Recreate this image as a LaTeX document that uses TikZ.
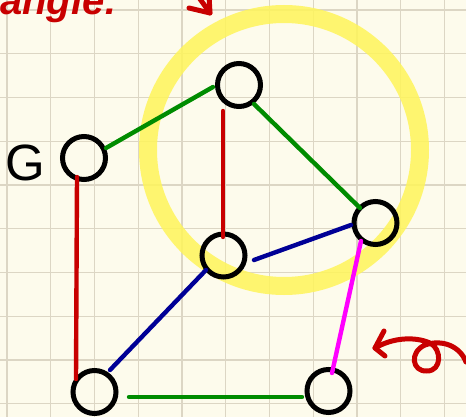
\documentclass[tikz,border=0pt]{standalone}
\usepackage{fontspec}
\setmainfont{Liberation Sans}
\usetikzlibrary{calc}
\definecolor{paper}{RGB}{253,251,236}
\definecolor{gridc}{RGB}{220,214,196}
\definecolor{hl}{RGB}{255,245,90}
\definecolor{inkred}{RGB}{200,0,0}
\definecolor{egreen}{RGB}{0,140,0}
\definecolor{eblue}{RGB}{0,0,150}
\definecolor{emag}{RGB}{255,0,255}
\definecolor{ered}{RGB}{200,0,0}
\begin{document}
\begin{tikzpicture}[x=1pt,y=-1pt,
  vert/.style={circle,draw=black,line width=5pt,minimum size=43pt,inner sep=0pt},
  edge/.style={line width=4.4pt,line cap=round},
  ink/.style={inkred,line width=5pt,line cap=round,line join=round},
  gridline/.style={gridc,line width=1.4pt}]
\fill[paper] (0,0) rectangle (466,417);
\useasboundingbox (0,0) rectangle (466,417);
\clip (0,0) rectangle (466,417);
\foreach \i in {0,...,10} { \draw[gridline] ({7+43.75*\i},0) -- ({7+43.75*\i},417); }
\foreach \i in {0,...,9} { \draw[gridline] (0,{10+43.75*\i}) -- (466,{10+43.75*\i}); }
% highlighter circle
\draw[hl, opacity=0.85, line width=18pt] (284,150) circle[radius=136];
% vertices
\node[vert] (G) at (84,158) {};
\node[vert] (top) at (239,85) {};
\node[vert] (right) at (375.5,223) {};
\node[vert] (mid) at (223.5,255.5) {};
\node[vert] (bl) at (94.5,392) {};
\node[vert] (br) at (328.5,391) {};
% label
\node[anchor=base, font=\fontsize{51}{51}\selectfont, inner sep=0pt] (glabel) at (25,181) {G};
% edges
\draw[edge, egreen] ($(G)+(22,-10)$) -- ($(top)+(-26,2)$);
\draw[edge, egreen] ($(top)+(15,19)$) -- ($(right)+(-15.5,-15)$);
\draw[edge, ered] ($(top)+(-16,26)$) -- ($(mid)+(-0.5,-18.5)$);
\draw[edge, eblue] ($(mid)+(30.5,4.5)$) -- ($(right)+(-24.5,2)$);
\draw[edge, eblue] ($(mid)+(-17.5,14.5)$) -- ($(bl)+(15.5,-22)$);
\draw[edge, ered] ($(G)+(-7,19)$) -- ($(bl)+(-18.5,-13)$);
\draw[edge, egreen] ($(bl)+(34.5,5)$) -- ($(br)+(-26.5,6)$);
\draw[edge, emag] ($(right)+(-14.5,18)$) -- ($(br)+(3.5,-18)$);
% handwriting
\node[anchor=base east, inkred, font=\fontsize{40}{40}\selectfont\bfseries\itshape, inner sep=0pt] (title) at (118,15) {angle:};
\draw[ink] (195,-8) -- (210,13);
\draw[ink] (189,8) -- (210,13) -- (209,-4);
\draw[ink] (384,331) -- (375,348) -- (385,356);
\draw[ink] (375,348) .. controls (392,338) and (414,336) .. (430,343)
  .. controls (442,349) and (442,371) .. (427,371)
  .. controls (412,372) and (409,352) .. (425,345)
  .. controls (442,339) and (460,346) .. (466,362);
\end{tikzpicture}
\end{document}
